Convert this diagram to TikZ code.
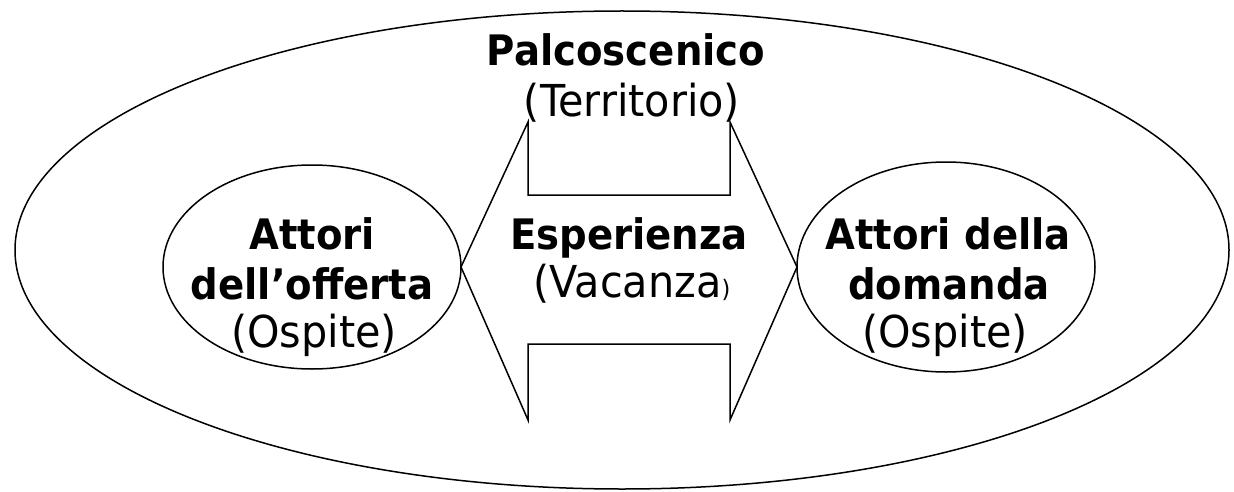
\documentclass[tikz,border=0pt]{standalone}
\usepackage{fontspec}
\setmainfont{DejaVu Sans}
\newfontfamily\boldface{DejaVu Sans Bold}[FakeStretch=0.92]
\newfontfamily\regface{DejaVu Sans}[FakeStretch=0.94]
\usetikzlibrary{shapes.geometric}
\tikzset{
  shape line/.style={draw=black, line width=1.5pt},
  oval/.style={shape line, ellipse, inner sep=0pt},
  bt/.style={anchor=base, inner sep=0pt, font=\fontsize{42}{50}\boldface},
  rt/.style={anchor=base, inner sep=0pt, font=\fontsize{44}{52}\regface},
}
\begin{document}
\begin{tikzpicture}[x=1pt, y=-1pt]
\useasboundingbox (0,0) rectangle (1234,492);
% stage
\node[oval, minimum width=1214pt, minimum height=478pt] (stage) at (622,250) {};
% actors
\node[oval, minimum width=298pt, minimum height=204pt] (offer) at (312,267) {};
\node[oval, minimum width=298pt, minimum height=210pt] (demand) at (946,267) {};
% experience double arrow
\coordinate (tipL) at (461,267);
\coordinate (tipR) at (797,267);
\draw[shape line, line join=miter] (tipL) -- (528,122) -- (528,195) -- (730,195) -- (730,122)
  -- (tipR) -- (730,420) -- (730,344) -- (528,344) -- (528,420) -- cycle;
% texts
\node[bt] (palco) at (626,66) {Palcoscenico};
\node[rt] (terr) at (632,117) {(Territorio)};
\node[bt] (att1) at (312,249) {Attori};
\node[bt] (att2) at (312,299) {dell’offerta};
\node[rt] (osp1) at (314,347) {(Ospite)};
\node[bt] (esp) at (629,249) {Esperienza};
\node[rt] (vac) at (632,297) {(Vacanza{\fontsize{24}{28}\regface)}};
\node[bt] (dom1) at (948,249) {Attori della};
\node[bt] (dom2) at (949,299) {domanda};
\node[rt] (osp2) at (945,347) {(Ospite)};
\end{tikzpicture}
\end{document}
